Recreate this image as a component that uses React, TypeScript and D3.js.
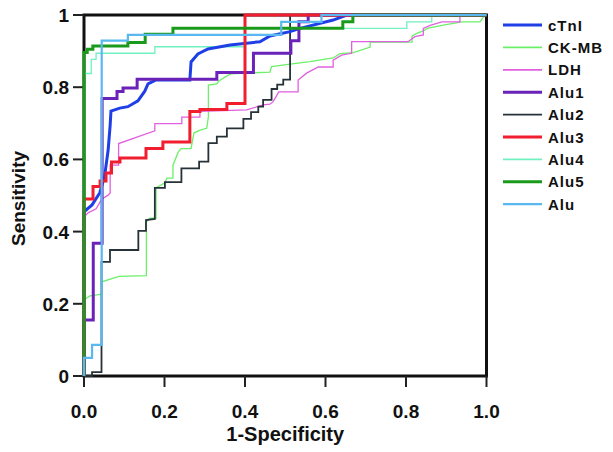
import React, { useEffect, useRef } from "react";
import * as d3 from "d3";

type Pt = [number, number];

const cTnI: Pt[] = [[0,0],[0,0.455],[0.02,0.474],[0.039,0.507],[0.051,0.552],[0.06,0.626],[0.065,0.695],[0.067,0.734],[0.089,0.742],[0.109,0.746],[0.134,0.762],[0.151,0.789],[0.159,0.809],[0.179,0.82],[0.263,0.82],[0.266,0.87],[0.283,0.892],[0.308,0.906],[0.363,0.917],[0.437,0.926],[0.462,0.942],[0.512,0.954],[0.537,0.963],[0.619,0.986],[0.653,1],[1,1]];
const ckmb: Pt[] = [[0,0],[0,0.211],[0.015,0.222],[0.04,0.226],[0.044,0.226],[0.044,0.261],[0.087,0.276],[0.155,0.278],[0.155,0.427],[0.164,0.437],[0.179,0.437],[0.179,0.521],[0.201,0.535],[0.206,0.548],[0.221,0.548],[0.221,0.584],[0.234,0.62],[0.241,0.63],[0.266,0.63],[0.273,0.673],[0.288,0.681],[0.305,0.686],[0.309,0.718],[0.309,0.806],[0.33,0.809],[0.335,0.817],[0.35,0.828],[0.365,0.837],[0.462,0.842],[0.466,0.857],[0.512,0.864],[0.561,0.871],[0.619,0.881],[0.636,0.893],[0.669,0.896],[0.711,0.911],[0.711,0.925],[0.815,0.925],[0.815,0.942],[0.827,0.949],[0.843,0.956],[0.855,0.964],[0.893,0.972],[0.938,0.981],[0.984,0.981],[0.992,0.994],[1,1]];
const ldh: Pt[] = [[0,0],[0,0.44],[0.01,0.452],[0.03,0.463],[0.044,0.49],[0.06,0.501],[0.065,0.507],[0.065,0.584],[0.086,0.584],[0.086,0.644],[0.176,0.679],[0.176,0.699],[0.243,0.699],[0.243,0.717],[0.288,0.717],[0.288,0.733],[0.404,0.737],[0.445,0.751],[0.462,0.753],[0.47,0.76],[0.484,0.787],[0.532,0.787],[0.532,0.82],[0.553,0.839],[0.582,0.856],[0.619,0.856],[0.619,0.875],[0.64,0.889],[0.665,0.894],[0.665,0.926],[0.805,0.926],[0.822,0.94],[0.843,0.945],[0.843,0.963],[0.86,0.971],[0.889,0.981],[0.934,0.981],[0.934,0.996],[1,1]];
const alu1: Pt[] = [[0,0],[0,0.155],[0.023,0.155],[0.023,0.368],[0.045,0.368],[0.045,0.769],[0.082,0.769],[0.082,0.788],[0.097,0.788],[0.097,0.798],[0.132,0.798],[0.132,0.822],[0.33,0.822],[0.33,0.841],[0.421,0.841],[0.421,0.894],[0.514,0.894],[0.514,0.929],[0.534,0.929],[0.534,0.981],[0.557,0.981],[0.557,1],[1,1]];
const alu2: Pt[] = [[0,0],[0.02,0],[0.02,0.011],[0.0435,0.011],[0.0435,0.316],[0.0646,0.316],[0.0646,0.349],[0.135,0.349],[0.135,0.402],[0.154,0.402],[0.154,0.432],[0.176,0.435],[0.176,0.521],[0.201,0.521],[0.201,0.537],[0.242,0.537],[0.242,0.575],[0.286,0.575],[0.286,0.594],[0.309,0.594],[0.309,0.645],[0.33,0.645],[0.33,0.663],[0.355,0.663],[0.355,0.686],[0.396,0.686],[0.396,0.712],[0.415,0.712],[0.415,0.731],[0.433,0.731],[0.433,0.746],[0.445,0.746],[0.445,0.765],[0.466,0.765],[0.466,0.795],[0.48,0.795],[0.48,0.807],[0.495,0.807],[0.495,0.821],[0.512,0.821],[0.512,1],[1,1]];
const alu3: Pt[] = [[0,0],[0,0.49],[0.0224,0.49],[0.0224,0.525],[0.04,0.525],[0.04,0.54],[0.0547,0.54],[0.0547,0.562],[0.0683,0.562],[0.0683,0.593],[0.0894,0.593],[0.0894,0.604],[0.154,0.604],[0.154,0.63],[0.196,0.63],[0.196,0.648],[0.263,0.648],[0.263,0.733],[0.288,0.733],[0.288,0.738],[0.355,0.738],[0.355,0.755],[0.4,0.755],[0.4,1],[1,1]];
const alu4: Pt[] = [[0,0],[0,0.838],[0.018,0.838],[0.018,0.877],[0.03,0.877],[0.03,0.894],[0.176,0.894],[0.176,0.912],[0.4,0.912],[0.4,0.963],[0.802,0.963],[0.802,0.981],[0.864,0.981],[0.864,0.997],[1,1]];
const alu5: Pt[] = [[0,0],[0,0.896],[0.008,0.896],[0.008,0.905],[0.022,0.905],[0.022,0.914],[0.109,0.914],[0.109,0.924],[0.152,0.924],[0.152,0.947],[0.221,0.947],[0.221,0.963],[0.643,0.963],[0.643,0.981],[0.668,0.981],[0.668,1],[1,1]];
const alu: Pt[] = [[0,0],[0,0.05],[0.02,0.05],[0.02,0.086],[0.044,0.086],[0.044,0.929],[0.109,0.929],[0.109,0.945],[0.49,0.945],[0.49,0.981],[0.59,0.981],[0.59,1],[1,1]];

const legendNames = ["cTnI", "CK-MB", "LDH", "Alu1", "Alu2", "Alu3", "Alu4", "Alu5", "Alu"];
const seriesData: Pt[][] = [cTnI, ckmb, ldh, alu1, alu2, alu3, alu4, alu5, alu];
const colors = ["#1f3fe6", "#6cf06a", "#e060e0", "#6a22b8", "#263238", "#f01e2e", "#72f0c0", "#1a9a1a", "#5ab8f0"];
const widths = [3, 1.3, 1.3, 3, 1.8, 3, 1.3, 3, 2.2];
const drawOrder = [1, 2, 4, 6, 0, 3, 5, 7, 8];
const xTicks = [0, 0.2, 0.4, 0.6, 0.8, 1.0];
const yTicks = [0, 0.2, 0.4, 0.6, 0.8, 1];
const yTickLabels = ["0", "0.2", "0.4", "0.6", "0.8", "1"];

const W = 613, H = 452;
const L = 84, R = 486.5, T = 15, B = 376;
const FONT = "'Liberation Sans', Arial, Helvetica, sans-serif";

export default function App() {
  const ref = useRef<SVGSVGElement>(null);
  useEffect(() => {
    const svg = d3.select(ref.current);
    svg.selectAll("*").remove();
    const x = d3.scaleLinear().domain([0, 1]).range([L, R]);
    const y = d3.scaleLinear().domain([0, 1]).range([B, T]);

    svg.append("rect").attr("x", 0).attr("y", 0).attr("width", W).attr("height", H).attr("fill", "#fff");

    // frame
    svg.append("rect").attr("x", L).attr("y", T).attr("width", R - L).attr("height", B - T)
      .attr("fill", "none").attr("stroke", "#111").attr("stroke-width", 3);

    // ticks
    const g = svg.append("g").attr("font-family", FONT).attr("font-weight", "bold").attr("fill", "#111");
    xTicks.forEach((t) => {
      g.append("line").attr("x1", x(t)).attr("x2", x(t)).attr("y1", B).attr("y2", B + 11)
        .attr("stroke", "#222").attr("stroke-width", 2);
      g.append("text").attr("x", x(t)).attr("y", 418).attr("text-anchor", "middle")
        .attr("font-size", 19).text(d3.format(".1f")(t));
    });
    yTicks.forEach((t, i) => {
      g.append("line").attr("x1", L - 11).attr("x2", L).attr("y1", y(t)).attr("y2", y(t))
        .attr("stroke", "#222").attr("stroke-width", 2);
      g.append("text").attr("x", 69).attr("y", y(t) + 7).attr("text-anchor", "end")
        .attr("font-size", 19).text(yTickLabels[i]);
    });
    g.append("text").attr("x", (L + R) / 2).attr("y", 441).attr("text-anchor", "middle")
      .attr("font-size", 20).text("1-Specificity");
    g.append("text").attr("transform", `translate(25,${(T + B) / 2 + 3}) rotate(-90)`)
      .attr("text-anchor", "middle").attr("font-size", 19).text("Sensitivity");

    const line = d3.line<Pt>().x((d) => x(d[0])).y((d) => y(d[1]));
    drawOrder.forEach((i) => {
      svg.append("path").attr("d", line(seriesData[i]) as string).attr("fill", "none")
        .attr("stroke", colors[i]).attr("stroke-width", widths[i]).attr("stroke-linejoin", "miter");
    });

    // legend
    const lg = svg.append("g");
    legendNames.forEach((n, i) => {
      const cy = 25 + i * 22.4;
      lg.append("line").attr("x1", 503).attr("x2", 542).attr("y1", cy).attr("y2", cy)
        .attr("stroke", colors[i]).attr("stroke-width", Math.max(widths[i], 1.8));
      lg.append("text").attr("x", 548).attr("y", cy + 5.5).attr("font-family", FONT)
        .attr("font-weight", "bold").attr("font-size", 15).attr("letter-spacing", 1)
        .attr("fill", "#111").text(n);
    });
  }, []);
  return (
    <svg ref={ref} width={W} height={H} style={{ position: "absolute", left: 0, top: 0 }} />
  );
}
